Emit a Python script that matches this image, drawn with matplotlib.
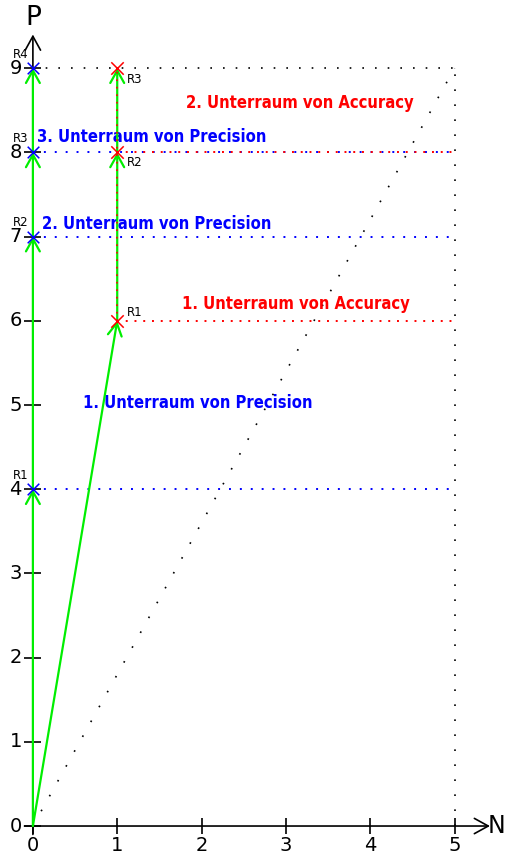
import matplotlib
matplotlib.use("Agg")
import matplotlib.pyplot as plt

# --- data ---
x_ticks = [0, 1, 2, 3, 4, 5]
y_ticks = [0, 1, 2, 3, 4, 5, 6, 7, 8, 9]

# Precision path (left, x = 0)
prec_x = [0, 0, 0, 0, 0]
prec_y = [0, 4, 7, 8, 9]
prec_labels = ["R1", "R2", "R3", "R4"]

# Accuracy path (x = 1)
acc_x = [0, 1, 1, 1]
acc_y = [0, 6, 8, 9]
acc_labels = ["R1", "R2", "R3"]

# subspace boundaries
prec_levels = [4, 7, 8]
acc_levels = [6, 8]
n_max, p_max = 5, 9

prec_texts = ["1. Unterraum von Precision", "2. Unterraum von Precision", "3. Unterraum von Precision"]
prec_text_pos = [(0.6, 5.02), (0.11, 7.15), (0.05, 8.18)]
acc_texts = ["1. Unterraum von Accuracy", "2. Unterraum von Accuracy"]
acc_text_pos = [(1.77, 6.2), (1.81, 8.59)]

BLUE = "#0000ff"
RED = "#ff0000"
GREEN = "#00ee00"

fig = plt.figure(figsize=(5.06, 8.56), dpi=100)
ax = fig.add_axes([0, 0, 1, 1])
ax.set_xlim(-0.39, 5.61)
ax.set_ylim(-0.356, 9.81)
ax.axis("off")

# black dotted frame and diagonal
ax.plot([0, n_max], [p_max, p_max], color="black", lw=1.2, dashes=(1, 6.6), zorder=1)
ax.plot([n_max, n_max], [0, p_max], color="black", lw=1.2, dashes=(1, 8.0), zorder=1)
ax.plot([0, n_max], [0, p_max], color="black", lw=1.2, dashes=(1, 9.2), zorder=1)

# subspace lines
for lv in prec_levels:
    ax.plot([0, n_max], [lv, lv], color=BLUE, lw=1.4, dashes=(1, 4.6), zorder=2)
for lv in acc_levels:
    ax.plot([1, n_max], [lv, lv], color=RED, lw=1.4, dashes=(1, 3.5), zorder=2)

# axes with arrows
head = "->,head_length=1.0,head_width=0.55"
ax.annotate("", xy=(5.42, 0), xytext=(-0.1, 0),
            arrowprops=dict(arrowstyle=head, color="black",
                            lw=1.2, shrinkA=0, shrinkB=0, mutation_scale=10), zorder=3)
ax.annotate("", xy=(0, 9.4), xytext=(0, -0.1),
            arrowprops=dict(arrowstyle=head, color="black",
                            lw=1.2, shrinkA=0, shrinkB=0, mutation_scale=10), zorder=3)
ax.vlines(x_ticks, -0.095, 0.095, color="black", lw=1.2, zorder=3)
ax.hlines(y_ticks, -0.1, 0.1, color="black", lw=1.2, zorder=3)
for t in x_ticks:
    ax.text(t, -0.23, str(t), ha="center", va="center", fontsize=14)
for t in y_ticks:
    ax.text(-0.13, t, str(t), ha="right", va="center", fontsize=14)
ax.text(5.5, 0, "N", ha="center", va="center", fontsize=17)
ax.text(0, 9.6, "P", ha="center", va="center", fontsize=19)

# green arrows
def arrows(xs, ys):
    for i in range(len(xs) - 1):
        ax.annotate("", xy=(xs[i + 1], ys[i + 1]), xytext=(xs[i], ys[i]),
                    arrowprops=dict(arrowstyle="->,head_length=0.9,head_width=0.5", color=GREEN,
                                    lw=1.6, shrinkA=0, shrinkB=0, mutation_scale=10), zorder=4)

arrows(prec_x, prec_y)
arrows(acc_x, acc_y)

# red dotted over accuracy vertical
ax.plot([1, 1], [acc_y[1], acc_y[-1]], color=RED, lw=1.2, dashes=(1, 3.5), zorder=5)

# markers
ax.scatter(prec_x[1:], prec_y[1:], marker="x", s=70, color=BLUE, linewidths=1.1, zorder=6)
ax.scatter(acc_x[1:], acc_y[1:], marker="x", s=80, color=RED, linewidths=1.1, zorder=6)

for lab, yy in zip(prec_labels, prec_y[1:]):
    ax.annotate(lab, (0, yy), xytext=(-8.5, 10), textcoords="offset points",
                ha="center", va="center", fontsize=8.5)
acc_offsets = [(7, 6), (7, -7), (7, -8)]
for lab, xx, yy, off in zip(acc_labels, acc_x[1:], acc_y[1:], acc_offsets):
    ax.annotate(lab, (xx, yy), xytext=off, textcoords="offset points",
                ha="left", va="center", fontsize=8.5)

for t, (tx, ty) in zip(prec_texts, prec_text_pos):
    ax.text(tx, ty, t, color=BLUE, fontsize=11.9, fontweight="bold",
            fontstretch="condensed", ha="left", va="center")
for t, (tx, ty) in zip(acc_texts, acc_text_pos):
    ax.text(tx, ty, t, color=RED, fontsize=11.9, fontweight="bold",
            fontstretch="condensed", ha="left", va="center")

fig.savefig("out.png", dpi=100)
